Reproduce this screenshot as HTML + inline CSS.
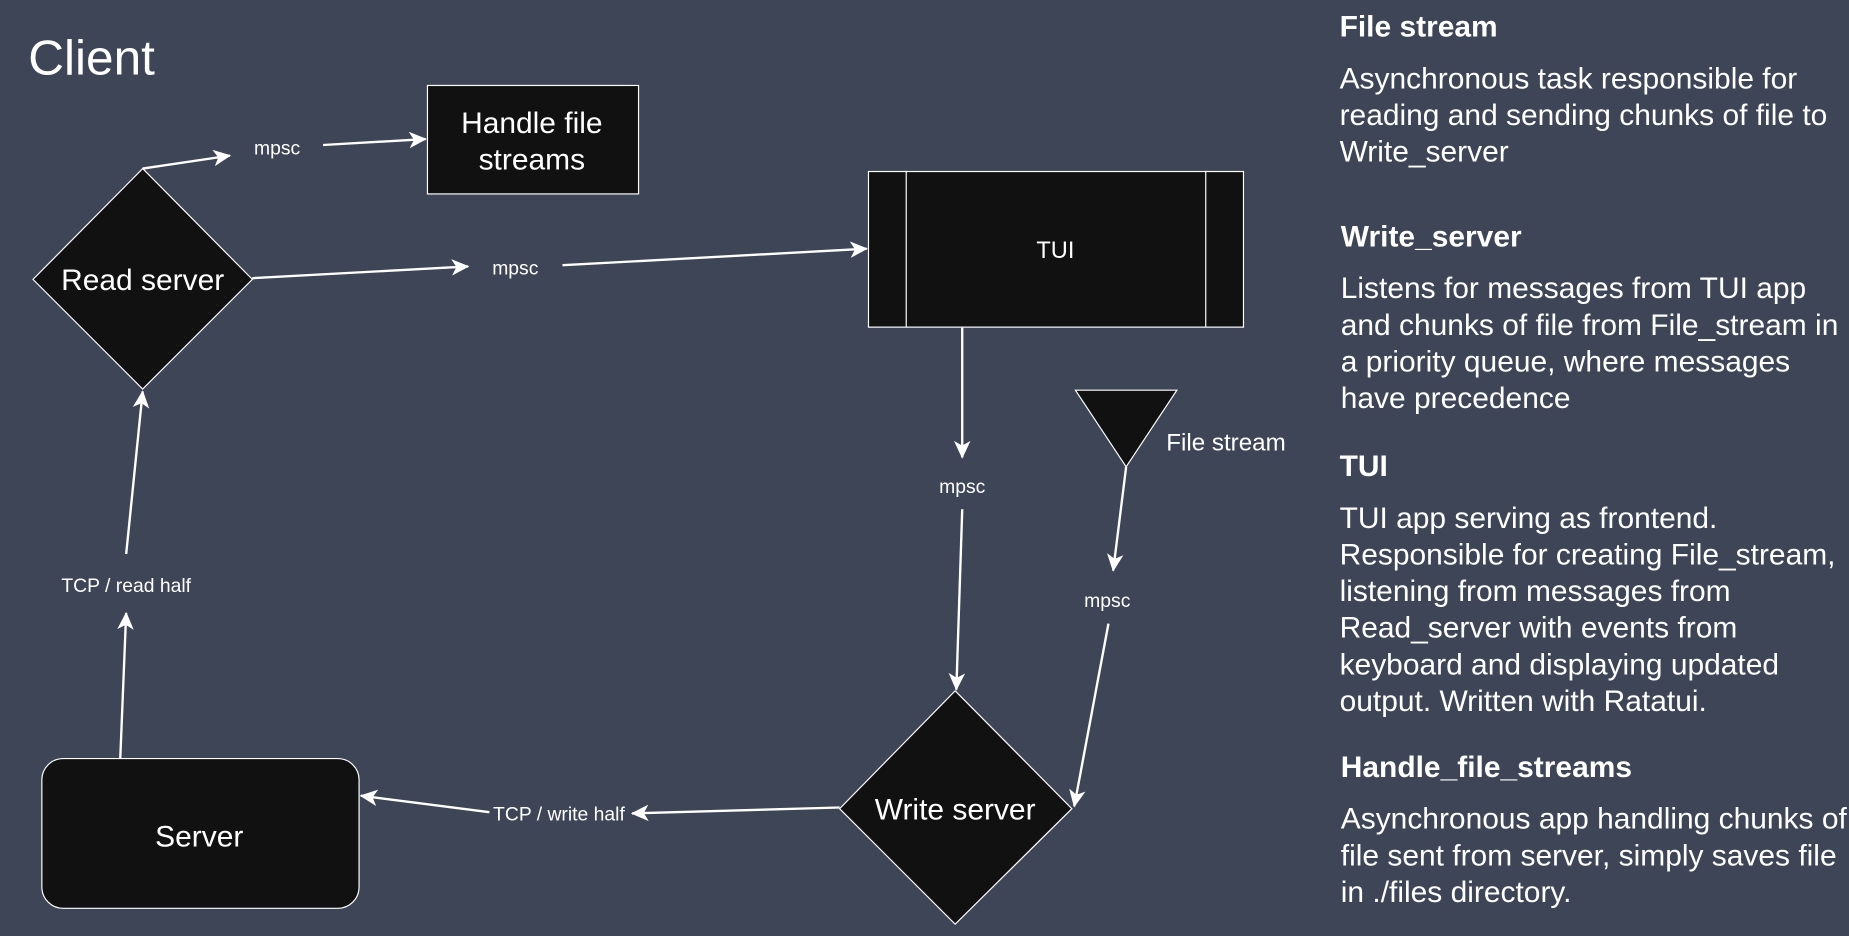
<!DOCTYPE html>
<html><head><meta charset="utf-8"><style>
html,body{margin:0;padding:0;background:#3d4556;}
svg{display:block}
text{font-family:"Liberation Sans",sans-serif;fill:#fff}
</style></head><body>
<svg width="1849" height="936" viewBox="0 0 1568 794" preserveAspectRatio="none" xmlns="http://www.w3.org/2000/svg">
<defs><marker id="a" markerWidth="16" markerHeight="14" refX="14" refY="7" orient="auto" markerUnits="userSpaceOnUse"><path d="M0,0 L15,7 L0,14 L4,7 Z" fill="#fff"/></marker></defs>
<rect width="1568" height="794" fill="#3d4556"/>
<text x="24" y="63" font-size="42">Client</text>
<rect x="362.5" y="72.5" width="179" height="92" fill="#111" stroke="#fff"/>
<text x="451" y="113" font-size="25.4" text-anchor="middle">Handle file</text>
<text x="451" y="144" font-size="25.4" text-anchor="middle">streams</text>
<polygon points="121,143 214,237 121,330 28,237" fill="#111" stroke="#fff"/>
<text x="121" y="246" font-size="25.4" text-anchor="middle">Read server</text>
<rect x="736.5" y="145.5" width="318" height="132" fill="#111" stroke="#fff"/>
<line x1="768.5" y1="145" x2="768.5" y2="277" stroke="#fff"/>
<line x1="1022.5" y1="145" x2="1022.5" y2="277" stroke="#fff"/>
<text x="895" y="219" font-size="20" text-anchor="middle">TUI</text>
<polygon points="912,331 998,331 955,396" fill="#111" stroke="#fff"/>
<text x="989" y="382" font-size="20.5">File stream</text>
<polygon points="810,586 909,686 810,784 712,686" fill="#111" stroke="#fff"/>
<text x="810" y="695" font-size="25.4" text-anchor="middle">Write server</text>
<rect x="35.5" y="643.5" width="269" height="127" rx="18" fill="#111" stroke="#fff"/>
<text x="169" y="718" font-size="25.4" text-anchor="middle">Server</text>
<g stroke="#fff" stroke-width="2" fill="none">
<line x1="121" y1="143" x2="195" y2="132" marker-end="url(#a)"/>
<line x1="274" y1="123" x2="361" y2="118" marker-end="url(#a)"/>
<line x1="214" y1="236" x2="397" y2="226" marker-end="url(#a)"/>
<line x1="477" y1="225" x2="735" y2="211" marker-end="url(#a)"/>
<line x1="816" y1="278" x2="816" y2="388" marker-end="url(#a)"/>
<line x1="816" y1="432" x2="811" y2="585" marker-end="url(#a)"/>
<line x1="955" y1="396" x2="944" y2="484" marker-end="url(#a)"/>
<line x1="940" y1="529" x2="911" y2="684" marker-end="url(#a)"/>
<line x1="712" y1="685" x2="536" y2="690" marker-end="url(#a)"/>
<line x1="415" y1="689" x2="306" y2="675" marker-end="url(#a)"/>
<line x1="102" y1="643" x2="107" y2="520" marker-end="url(#a)"/>
<line x1="107" y1="470" x2="121" y2="332" marker-end="url(#a)"/>
</g>
<g font-size="16.4" text-anchor="middle">
<text x="235" y="131">mpsc</text>
<text x="437" y="233">mpsc</text>
<text x="816" y="418">mpsc</text>
<text x="939" y="515">mpsc</text>
<text x="474" y="696">TCP / write half</text>
<text x="107" y="502">TCP / read half</text>
</g>
<g font-size="25.4">
<text x="1136" y="31" font-weight="bold">File stream</text>
<text x="1136" y="75">Asynchronous task responsible for</text>
<text x="1136" y="106">reading and sending chunks of file to</text>
<text x="1136" y="137">Write_server</text>
<text x="1137" y="209" font-weight="bold">Write_server</text>
<text x="1137" y="253">Listens for messages from TUI app</text>
<text x="1137" y="284">and chunks of file from File_stream in</text>
<text x="1137" y="315">a priority queue, where messages</text>
<text x="1137" y="346">have precedence</text>
<text x="1136" y="404" font-weight="bold">TUI</text>
<text x="1136" y="448">TUI app serving as frontend.</text>
<text x="1136" y="479">Responsible for creating File_stream,</text>
<text x="1136" y="510">listening from messages from</text>
<text x="1136" y="541">Read_server with events from</text>
<text x="1136" y="572">keyboard and displaying updated</text>
<text x="1136" y="603">output. Written with Ratatui.</text>
<text x="1137" y="659" font-weight="bold">Handle_file_streams</text>
<text x="1137" y="703">Asynchronous app handling chunks of</text>
<text x="1137" y="734">file sent from server, simply saves file</text>
<text x="1137" y="765">in ./files directory.</text>
</g>
</svg>
</body></html>
